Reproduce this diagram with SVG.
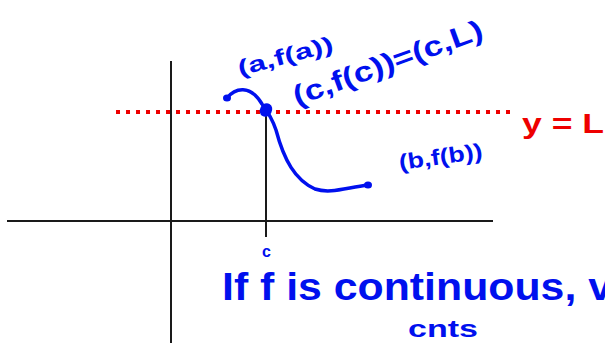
<svg xmlns="http://www.w3.org/2000/svg" width="605" height="343" viewBox="0 0 605 343">
<style>
.ax{stroke:#1a1a1a;stroke-width:2;fill:none}
.blue{fill:#0010ee;font-family:"Liberation Sans","DejaVu Sans",sans-serif;font-weight:bold}
.red{fill:#ee0000;font-family:"Liberation Sans","DejaVu Sans",sans-serif;font-weight:bold}
.curve{stroke:#0010ee;stroke-width:3.5;fill:none;stroke-linecap:round}
</style>
<rect width="605" height="343" fill="#fff"/>
<g id="axes">
<line class="ax" x1="7" y1="221" x2="493" y2="221"/>
<line class="ax" x1="171" y1="61" x2="171" y2="343"/>
<line class="ax" x1="266" y1="113" x2="266" y2="237"/>
</g>
<g id="level-line">
<line x1="116" y1="112" x2="512" y2="112" stroke="#ee0000" stroke-width="4" stroke-dasharray="4 6"/>
<text class="red" x="522" y="133" font-size="28" textLength="82" lengthAdjust="spacingAndGlyphs">y = L</text>
</g>
<g id="curve">
<path class="curve" d="M227,98 C235,88 250,84 262,104 C268,112 272,118 276,130 C284,160 295,180 315,189 C330,194 345,188 368,185"/>
<ellipse cx="227" cy="98" rx="4" ry="3.5" fill="#0010ee"/>
<ellipse cx="266" cy="110" rx="6" ry="7" fill="#0010ee" transform="rotate(30 266 110)"/>
<ellipse cx="368" cy="185" rx="4" ry="3.5" fill="#0010ee"/>
</g>
<g id="labels">
<text class="blue" font-size="22" transform="translate(240 76) rotate(-15)" textLength="98" lengthAdjust="spacingAndGlyphs">(a,f(a))</text>
<text class="blue" font-size="28" transform="translate(297 106) rotate(-20)" textLength="200" lengthAdjust="spacingAndGlyphs">(c,f(c))=(c,L)</text>
<text class="blue" font-size="22" transform="translate(400 170) rotate(-8)" textLength="84" lengthAdjust="spacingAndGlyphs">(b,f(b))</text>
<text class="blue" font-size="16" x="262" y="257">c</text>
<text class="blue" font-size="38" x="222" y="300" textLength="390" lengthAdjust="spacingAndGlyphs">If f is continuous, v</text>
<text class="blue" font-size="24" x="408" y="337" textLength="70" lengthAdjust="spacingAndGlyphs">cnts</text>
</g>
</svg>
